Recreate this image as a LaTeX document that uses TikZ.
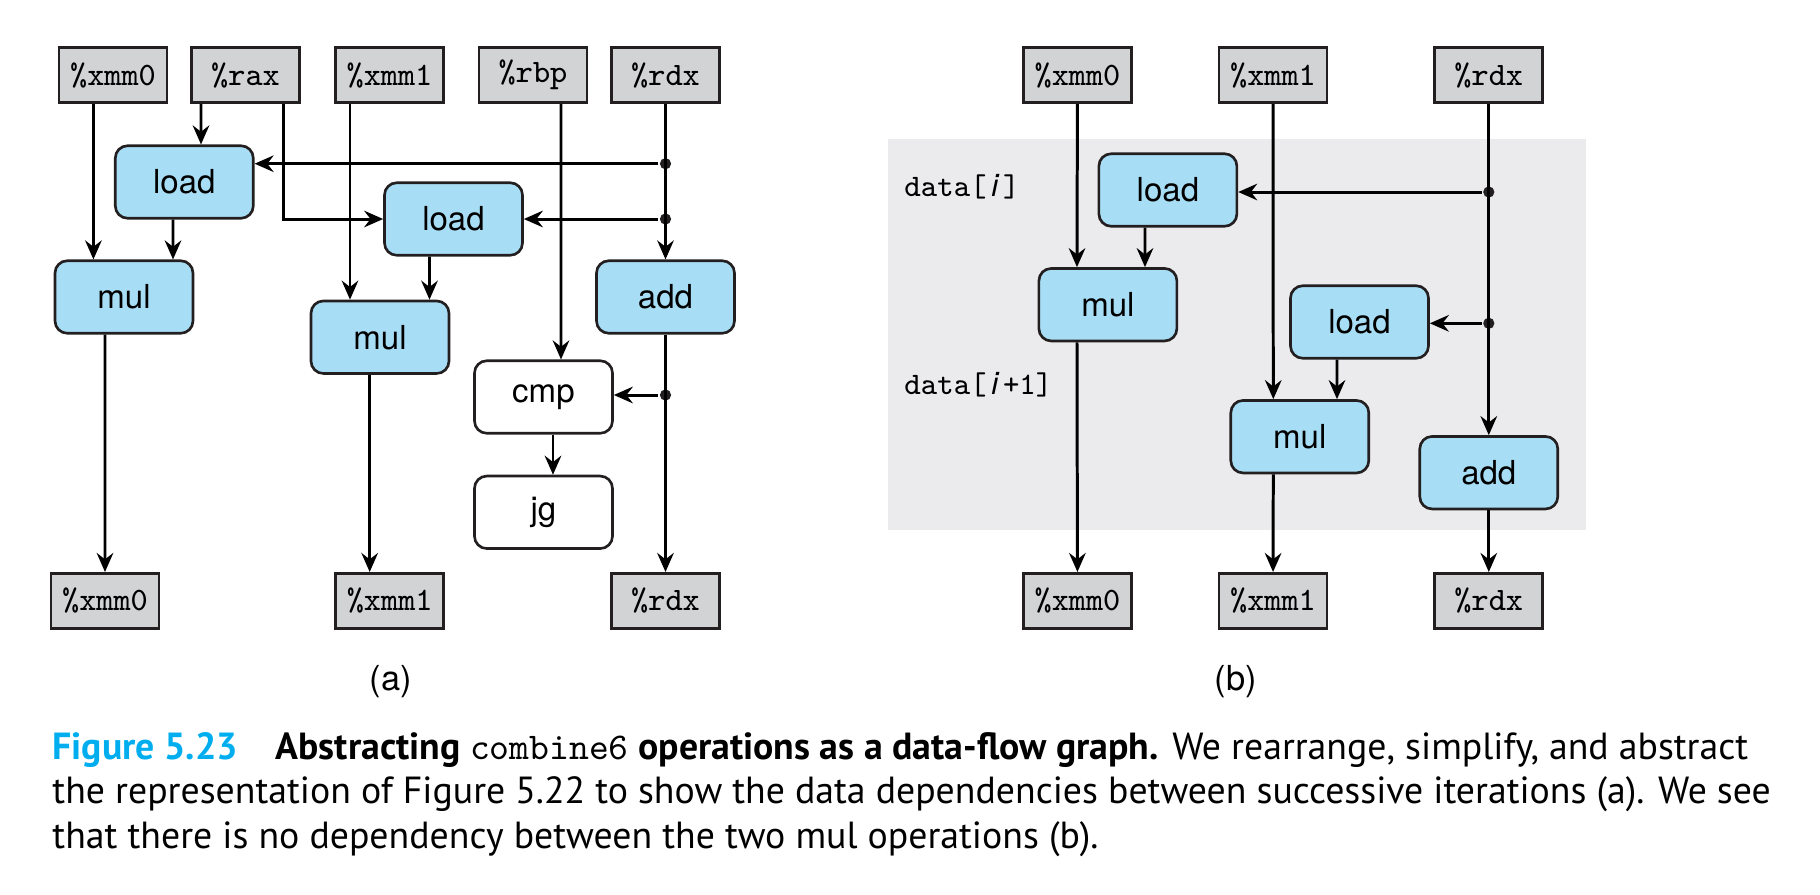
\documentclass[tikz,border=0pt]{standalone}
\usepackage{fontspec}
\usepackage{tikz}
\usetikzlibrary{%
  positioning
 ,arrows.meta
 ,calc
}
\newfontfamily\opfont{TeX Gyre Heros}
\newfontfamily\capfont{PT Sans}
\definecolor{opblue}{HTML}{A8DEF5}
\definecolor{reggray}{HTML}{D1D3D4}
\definecolor{bandgray}{HTML}{EBEBED}
\definecolor{figcyan}{HTML}{00AEEF}
\definecolor{ink}{HTML}{231F20}

\tikzstyle{dfg}=[>={Stealth[length=5.4pt,width=4.7pt,inset=1.8pt]},line width=0.85pt,x=1cm,y=-1cm]
\tikzstyle{reg}=[rectangle,draw=ink,fill=reggray,line width=0.75pt,minimum width=1.08cm,minimum height=0.55cm,inner sep=0pt,font=\fontsize{9.3}{11}\selectfont\ttfamily]
\tikzstyle{op}=[rectangle,rounded corners=3.5pt,draw=ink,fill=opblue,line width=0.75pt,minimum width=1.38cm,minimum height=0.725cm,inner sep=0pt,font=\fontsize{9.4}{11}\selectfont\opfont]
\tikzstyle{ctl}=[op,fill=white]
\tikzstyle{tap}=[circle,fill=ink,inner sep=0pt,minimum size=3.2pt]
\tikzstyle{idx}=[anchor=west,inner sep=0pt,font=\fontsize{8.9}{11}\selectfont\ttfamily]
\newcommand{\ivar}{\makebox[0.525em][c]{\opfont\itshape i}}

\begin{document}
\begin{tikzpicture}[dfg]
  \useasboundingbox (0,0) rectangle (18.2,8.94);
  \fill[bandgray] (8.88,1.39) rectangle (15.86,5.30);
% (a)
  \node[reg] (xmm0_in)  at (1.13,0.752)  {\%xmm0};
  \node[reg] (rax_in)   at (2.455,0.752) {\%rax};
  \node[reg] (xmm1_in)  at (3.895,0.752) {\%xmm1};
  \node[reg] (rbp_in)   at (5.33,0.752)  {\%rbp};
  \node[reg] (rdx_in)   at (6.655,0.752) {\%rdx};
  \node[op]  (load_1)   at (1.843,1.82)  {load};
  \node[op]  (load_2)   at (4.535,2.19)  {load};
  \node[op]  (mul_1)    at (1.24,2.97)   {mul};
  \node[op]  (mul_2)    at (3.80,3.372)  {mul};
  \node[op]  (add_1)    at (6.655,2.97)  {add};
  \node[ctl] (cmp_1)    at (5.435,3.97)  {cmp};
  \node[ctl] (jg_1)     at (5.435,5.123) {jg};
  \node[reg] (xmm0_out) at (1.05,6.008)  {\%xmm0};
  \node[reg] (xmm1_out) at (3.897,6.008) {\%xmm1};
  \node[reg] (rdx_out)  at (6.655,6.008) {\%rdx};
  \node[tap] (t_1) at (6.655,1.637) {};
  \node[tap] (t_2) at (6.655,2.19)  {};
  \node[tap] (t_3) at (6.655,3.95)  {};
  \node[font=\fontsize{9.8}{12}\selectfont\opfont] (lbl_a) at (3.91,6.82) {(a)};
%
  \draw[->] ([xshift=-0.196cm]xmm0_in.south) -- ([xshift=-0.306cm]mul_1.north);
  \draw[->] ([xshift=-0.445cm]rax_in.south) -- ([xshift=0.167cm]load_1.north);
  \draw[->] ([xshift=0.383cm]rax_in.south) |- (load_2.west);
  \draw[->] ([xshift=-0.395cm]xmm1_in.south) -- ([xshift=-0.30cm]mul_2.north);
  \draw[->] ([xshift=0.28cm]rbp_in.south) -- ([xshift=0.175cm]cmp_1.north);
  \draw[->] (rdx_in) -- (add_1);
  \draw[->] (t_1) -- (t_1 -| load_1.east);
  \draw[->] (t_2) -- (load_2.east);
  \draw[->] (t_3) -- (t_3 -| cmp_1.east);
  \draw[->] ([xshift=-0.113cm]load_1.south) -- ([xshift=0.49cm]mul_1.north);
  \draw[->] ([xshift=-0.24cm]load_2.south) -- ([xshift=0.495cm]mul_2.north);
  \draw[->] ([xshift=-0.19cm]mul_1.south) -- (xmm0_out);
  \draw[->] ([xshift=-0.103cm]mul_2.south) -- ([xshift=-0.2cm]xmm1_out.north);
  \draw[->] (add_1) -- (rdx_out);
  \draw[->] ([xshift=0.095cm]cmp_1.south) -- ([xshift=0.095cm]jg_1.north);
% (b)
  \node[reg] (xmm0_in2)  at (10.775,0.752) {\%xmm0};
  \node[reg] (xmm1_in2)  at (12.73,0.752)  {\%xmm1};
  \node[reg] (rdx_in2)   at (14.888,0.752) {\%rdx};
  \node[op]  (load_3)    at (11.679,1.90)  {load};
  \node[op]  (mul_3)     at (11.079,3.047) {mul};
  \node[op]  (load_4)    at (13.595,3.22)  {load};
  \node[op]  (mul_4)     at (12.998,4.367) {mul};
  \node[op]  (add_2)     at (14.888,4.727) {add};
  \node[reg] (xmm0_out2) at (10.775,6.008) {\%xmm0};
  \node[reg] (xmm1_out2) at (12.73,6.008)  {\%xmm1};
  \node[reg] (rdx_out2)  at (14.888,6.008) {\%rdx};
  \node[tap] (t_4) at (14.888,1.92)  {};
  \node[tap] (t_5) at (14.888,3.233) {};
  \node[idx] (lbl_i)  at (9.03,1.87) {data[\ivar]};
  \node[idx] (lbl_i1) at (9.03,3.85) {data[\ivar+1]};
  \node[font=\fontsize{9.8}{12}\selectfont\opfont] (lbl_b) at (12.36,6.82) {(b)};
%
  \draw[->] (xmm0_in2) -- ([xshift=-0.309cm]mul_3.north);
  \draw[->] ([xshift=-0.229cm]load_3.south) -- ([xshift=0.371cm]mul_3.north);
  \draw[->] (xmm1_in2) -- ([xshift=-0.265cm]mul_4.north);
  \draw[->] ([xshift=-0.225cm]load_4.south) -- ([xshift=0.372cm]mul_4.north);
  \draw[->] (rdx_in2) -- (add_2);
  \draw[->] (t_4) -- (t_4 -| load_3.east);
  \draw[->] (t_5) -- (t_5 -| load_4.east);
  \draw[->] ([xshift=-0.309cm]mul_3.south) -- (xmm0_out2);
  \draw[->] ([xshift=-0.265cm]mul_4.south) -- (xmm1_out2);
  \draw[->] (add_2) -- (rdx_out2);
% caption
  \node[anchor=north west,align=left,inner sep=0pt,font=\fontsize{10.75}{12.6}\selectfont\capfont] (cap) at (0.51,7.31)
  {{\bfseries\color{figcyan}Figure 5.23}\quad{\bfseries Abstracting {\mdseries\ttfamily combine6} operations as a data-flow graph.} We rearrange, simplify, and abstract\\
   the representation of Figure 5.22 to show the data dependencies between successive iterations (a). We see\\
   that there is no dependency between the two mul operations (b).};
\end{tikzpicture}
\end{document}
